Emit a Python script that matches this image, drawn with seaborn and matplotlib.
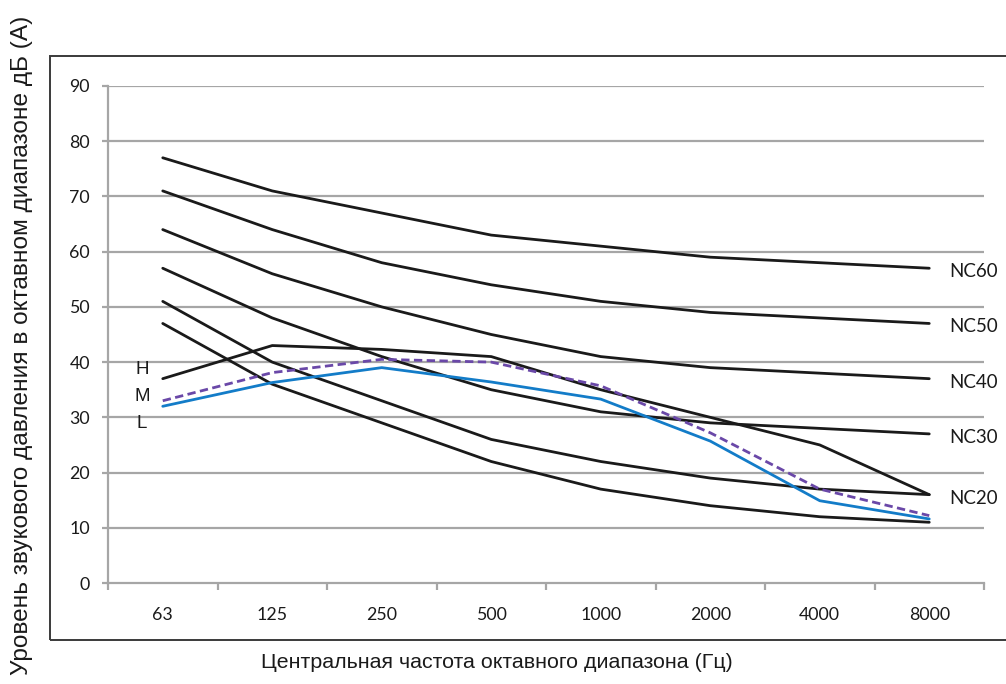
import matplotlib
matplotlib.use("Agg")
import matplotlib.pyplot as plt
import matplotlib.patches as patches
import numpy as np
import pandas as pd
import seaborn as sns

# octave band centre frequencies (Hz)
freqs = ["63", "125", "250", "500", "1000", "2000", "4000", "8000"]

# NC curves
nc60 = [77, 71, 67, 63, 61, 59, 58, 57]
nc50 = [71, 64, 58, 54, 51, 49, 48, 47]
nc40 = [64, 56, 50, 45, 41, 39, 38, 37]
nc30 = [57, 48, 41, 35, 31, 29, 28, 27]
nc20 = [51, 40, 33, 26, 22, 19, 17, 16]
nc15 = [47, 36, 29, 22, 17, 14, 12, 11]

# unit fan speeds
fan_h = [37, 43, 42.3, 41, 35, 30, 25, 16]
fan_m = [33, 38.1, 40.5, 40, 35.7, 27.2, 17, 12.2]
fan_l = [32, 36.3, 39, 36.4, 33.3, 25.7, 14.9, 11.6]

nc_names = ["NC60", "NC50", "NC40", "NC30", "NC20", None]
nc_curves = [nc60, nc50, nc40, nc30, nc20, nc15]

sns.set_theme(style="white")
plt.rcParams["font.family"] = ["Liberation Sans", "DejaVu Sans"]

W, H = 1006, 684
fig = plt.figure(figsize=(W / 100, H / 100), dpi=100)
ax = fig.add_axes([108 / W, 1 - 583 / H, (984 - 108) / W, (583 - 86) / H])

def draw(vals, color, dash=None):
    df = pd.DataFrame({"f": freqs, "v": vals})
    sns.lineplot(data=df, x="f", y="v", ax=ax, color=color, lw=2.0, sort=False)
    line = ax.lines[-1]
    if dash:
        line.set_dashes(dash)
    return line

for name, vals in zip(nc_names, nc_curves):
    draw(vals, "#1a1a1a")
    if name:
        ax.annotate(name, xy=(len(freqs) - 1, vals[-1]), xytext=(14.5, -2.5),
                    textcoords="offset points", va="center", ha="left",
                    fontsize=13.5, family=["Lato", "DejaVu Sans"], color="#1a1a1a",
                    annotation_clip=False)

draw(fan_h, "#1a1a1a")
draw(fan_l, "#137cc8")
draw(fan_m, "#6a48a8", dash=(3, 1.6))

for lab, yv in [("H", 38.7), ("M", 33.8), ("L", 28.9)]:
    ax.text(-0.19, yv, lab, ha="center", va="center", fontsize=13.5, color="#1a1a1a")

ax.set_xlim(-0.5, len(freqs) - 0.5)
ax.set_ylim(0, 90)
ax.set_yticks(np.arange(0, 91, 10))
ax.set_xticks(range(len(freqs)))
ax.set_xticklabels(freqs)
ax.set_xticks(np.arange(-0.5, len(freqs), 1), minor=True)
ax.set_xlabel("")
ax.set_ylabel("")

grid_c = "#a6a6a6"
ax.grid(False)
for yv in range(10, 91, 10):
    ax.axhline(yv, color=grid_c, lw=1.6, zorder=0)
for side in ["top", "right"]:
    ax.spines[side].set_visible(False)
for side in ["left", "bottom"]:
    ax.spines[side].set_color(grid_c)
    ax.spines[side].set_linewidth(1.6)

ax.tick_params(axis="y", which="major", direction="out", length=4, width=1.6,
               color=grid_c, pad=9, left=True)
ax.tick_params(axis="x", which="major", length=0, pad=17)
ax.tick_params(axis="x", which="minor", direction="out", length=5, width=1.6,
               color=grid_c, bottom=True)
for t in ax.get_xticklabels() + ax.get_yticklabels():
    t.set_fontfamily(["Lato", "DejaVu Sans"])
    t.set_fontsize(12.8)
    t.set_color("#1a1a1a")

# outer chart border
fig.patches.append(patches.Rectangle((50 / W, 1 - 640 / H), 1.0, (640 - 56) / H,
                                     transform=fig.transFigure, fill=False,
                                     edgecolor="#3a3a3a", lw=1.4))

fig.text(497 / W, 1 - 663 / H, "Центральная частота октавного диапазона (Гц)",
         ha="center", va="center", fontsize=15.4, color="#1a1a1a")
fig.text(22 / W, 1 - 345 / H, "Уровень звукового давления в октавном диапазоне дБ (А)",
         ha="center", va="center", rotation=90, fontsize=17.6, color="#1a1a1a")

fig.savefig("out.png", dpi=100)
